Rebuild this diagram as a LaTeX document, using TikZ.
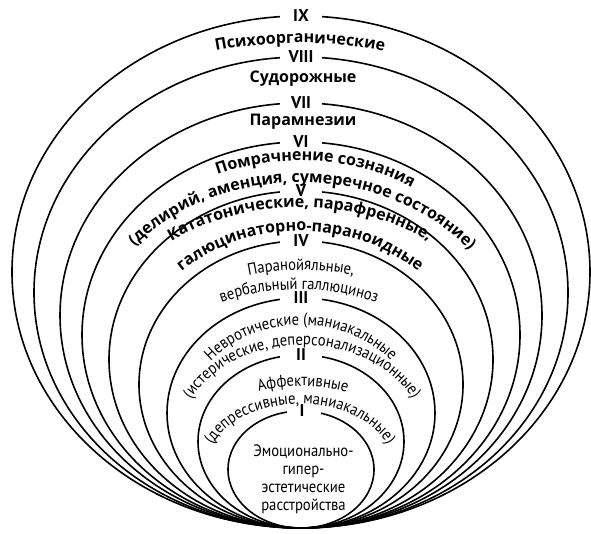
\documentclass[tikz,border=0pt]{standalone}
\usepackage{fontspec}
\setmainfont{PT Sans}
\newfontfamily\boldfam{Open Sans}
\newfontfamily\condfam[FakeStretch=0.89]{PT Sans}
\usetikzlibrary{decorations.text}
\newcommand\BF{\fontsize{16}{18}\selectfont\boldfam\bfseries}
\newcommand\RG{\fontsize{16.5}{18}\selectfont\condfam}
\newcommand\NM{\fontsize{17}{20}\selectfont\bfseries}
\newcommand\arctext[7]{\path[decorate,decoration={text along path,text align=center,text={#7}}] (#1,#2) ++(#5:#3 and #4) arc[start angle=#5,end angle=#6,x radius=#3,y radius=#4];}
\newcommand\gap[2]{\fill[white] ([shift={(-#2,-3)}]#1) rectangle ([shift={(#2,3)}]#1);}
\begin{document}
\begin{tikzpicture}[x=1pt,y=1pt,
  ring/.style={line width=1.6pt},
  num/.style={inner sep=0pt,font=\NM},
  lab/.style={anchor=base,inner sep=0pt}]
\useasboundingbox (0,0) rectangle (591,534);
% rings
\draw[ring] (301,262) ellipse [x radius=289,y radius=256];
\draw[ring] (301,241.5) ellipse [x radius=267,y radius=235.5];
\draw[ring] (301,218.5) ellipse [x radius=241,y radius=212.5];
\draw[ring] (301,199) ellipse [x radius=219,y radius=193];
\draw[ring] (301,174.5) ellipse [x radius=192,y radius=168.5];
\draw[ring] (301,149.5) ellipse [x radius=162,y radius=143.5];
\draw[ring] (301,121) ellipse [x radius=134,y radius=115];
\draw[ring] (301,92.5) ellipse [x radius=103,y radius=86.5];
\draw[ring] (301,64.5) ellipse [x radius=73,y radius=58.5];
% gaps in the rings for the numerals
\coordinate (g9) at (301,518);
\coordinate (g8) at (301,477);
\coordinate (g7) at (301,431);
\coordinate (g6) at (301,392);
\coordinate (g5) at (301,343);
\coordinate (g4) at (301,293);
\coordinate (g3) at (301,236);
\coordinate (g2) at (301,179);
\coordinate (g1) at (304,123);
\gap{g9}{21}\gap{g8}{21}\gap{g7}{21}\gap{g6}{21}\gap{g5}{21}
\gap{g4}{21}\gap{g3}{21}\gap{g2}{21}\gap{g1}{17}
% straight labels
\node[lab,font=\BF] (l8) at (303,451) {Судорожные};
\node[lab,font=\BF] (l7) at (303,408) {Парамнезии};
\node[lab,font=\RG] (l1a) at (303.5,77) {Эмоционально-};
\node[lab,font=\RG] (l1b) at (303.5,59) {гипер-};
\node[lab,font=\RG] (l1c) at (303.5,41) {эстетические};
\node[lab,font=\RG] (l1d) at (303.5,23) {расстройства};
% curved labels
\arctext{300}{248.5}{330}{242.5}{178}{2}{|\BF|Психоорганические}
\arctext{300}{190}{215}{183.5}{168}{2}{|\BF|Помрачнение сознания}
\arctext{300}{179.5}{213}{172}{176}{2}{|\BF|(делирий, аменция, сумеречное состояние)}
\arctext{300}{166}{210}{160.5}{178}{2}{|\BF|Кататонические, парафренные,}
\arctext{300}{154.5}{172}{148.5}{178}{2}{|\BF|галюцинаторно-параноидные}
\arctext{301}{135}{182}{129}{178}{2}{|\RG|Паранойяльные,}
\arctext{299}{125.5}{171}{119}{178}{2}{|\RG|вербальный галлюциноз}
\arctext{301}{107.5}{118}{101.5}{178}{2}{|\RG|Невротические (маниакальные}
\arctext{302}{97.5}{121}{91.5}{178}{2}{|\RG|(истерические, деперсонализационные)}
\arctext{303}{77}{110}{71}{178}{2}{|\RG|Аффективные}
\arctext{300}{69}{92.5}{61}{178}{2}{|\RG|(депрессивные, маниакальные)}
% numerals
\node[num] (n9) at (g9) {IX};
\node[num] (n8) at (g8) {VIII};
\node[num] (n7) at (g7) {VII};
\node[num] (n6) at (g6) {VI};
\node[num] (n5) at (g5) {V};
\node[num] (n4) at (g4) {IV};
\node[num] (n3) at (g3) {III};
\node[num] (n2) at (g2) {II};
\node[num] (n1) at (302,123) {I};
\end{tikzpicture}
\end{document}
